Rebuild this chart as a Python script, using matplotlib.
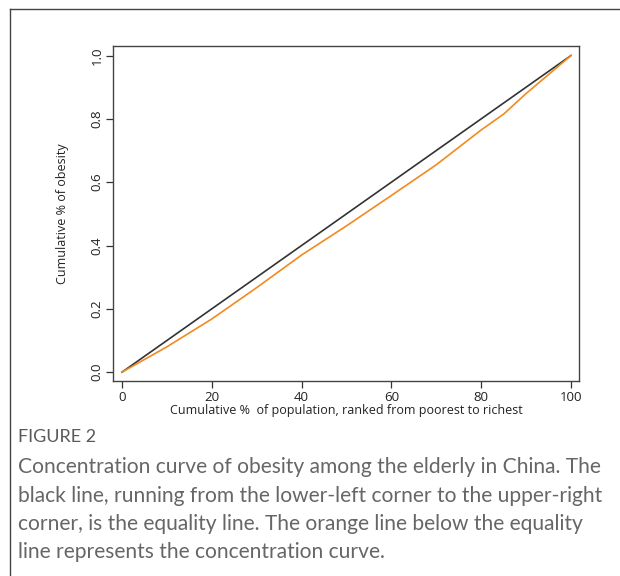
import matplotlib.pyplot as plt
from matplotlib.lines import Line2D

# concentration curve
pop_pct = [0, 10, 20, 30, 40, 50, 60, 70, 80, 85, 90, 95, 100]
obesity_cum = [0, 0.08, 0.168, 0.267, 0.37, 0.462, 0.558, 0.655, 0.765, 0.815, 0.88, 0.94, 1.0]
equal_x = [0, 100]
equal_y = [0, 1]

x_ticks = [0, 20, 40, 60, 80, 100]
y_ticks = [0.0, 0.2, 0.4, 0.6, 0.8, 1.0]

caption_head = 'FIGURE 2'
caption_lines = [
    'Concentration curve of obesity among the elderly in China. The',
    'black line, running from the lower-left corner to the upper-right',
    'corner, is the equality line. The orange line below the equality',
    'line represents the concentration curve.',
]

plt.rcParams['font.family'] = ['Open Sans', 'DejaVu Sans']

fig = plt.figure(figsize=(6.2, 5.76), dpi=100)
ax = fig.add_axes([0.1823, 0.3385, 0.7517, 0.5816])

ax.plot(equal_x, equal_y, color='#333333', lw=1.2)
ax.plot(pop_pct, obesity_cum, color='#f28a1e', lw=1.2)

ax.set_xlim(-2, 101.8)
ax.set_ylim(-0.028, 1.03)
ax.set_xticks(x_ticks)
ax.set_xticklabels([str(t) for t in x_ticks])
ax.set_yticks(y_ticks)
ax.set_yticklabels(['%.1f' % t for t in y_ticks], rotation=90, va='center')
ax.tick_params(direction='out', length=5, width=0.9, colors='#333333',
               labelsize=9.5, labelcolor='#222222', pad=2)
for s in ax.spines.values():
    s.set_color('#444444')
    s.set_linewidth(1.0)

ax.set_xlabel('Cumulative %  of population, ranked from poorest to richest',
              fontsize=9.0, color='#222222', labelpad=0)
ax.set_ylabel('Cumulative % of obesity', fontsize=9.0, color='#222222', labelpad=15)

# outer frame (left and top edges only visible)
fig.add_artist(Line2D([10 / 620, 10 / 620], [0, 1 - 9 / 576],
                      transform=fig.transFigure, color='#444444', lw=1.0))
fig.add_artist(Line2D([10 / 620, 1], [1 - 9 / 576, 1 - 9 / 576],
                      transform=fig.transFigure, color='#444444', lw=1.0))

fig.text(18 / 620, 1 - 437 / 576, caption_head, fontsize=13.0, color='#5a5a5a',
         va='center', ha='left', family=['Lato', 'DejaVu Sans'])
for i, line in enumerate(caption_lines):
    fig.text(18 / 620, 1 - (467 + 28.5 * i) / 576, line, fontsize=15.1,
             color='#666666', va='center', ha='left', family=['Lato', 'DejaVu Sans'])

fig.savefig('out.png', dpi=100)
